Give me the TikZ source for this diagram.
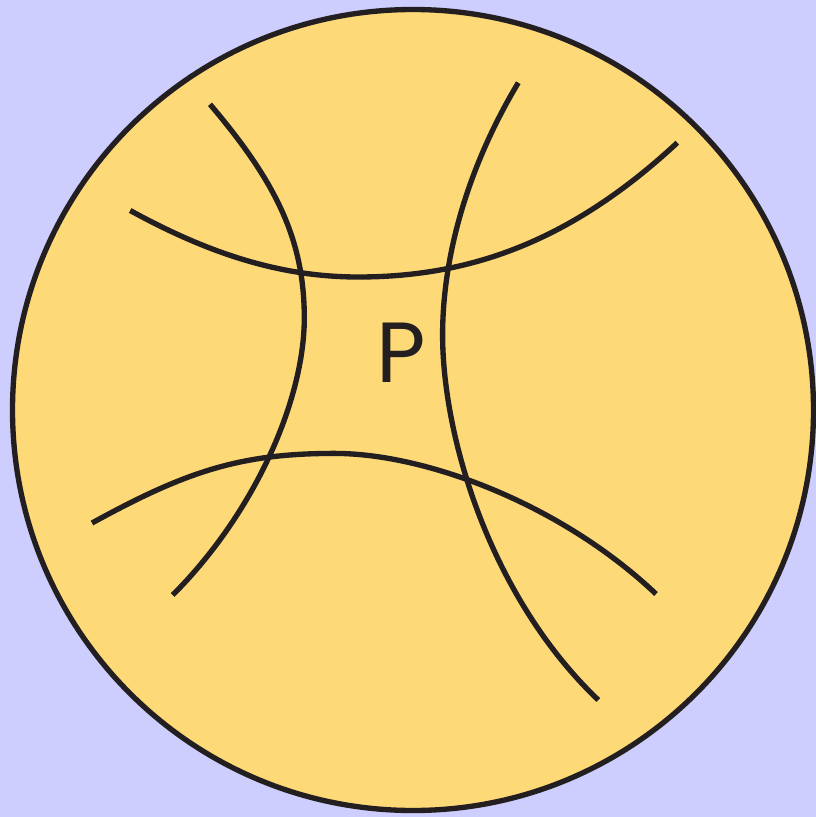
\documentclass[tikz,border=0pt]{standalone}
\usepackage{fontspec}
\setmainfont{Poppins}
\definecolor{bg}{HTML}{CDCDFE}
\definecolor{ball}{HTML}{FDD978}
\definecolor{ink}{HTML}{231F20}
\begin{document}
\begin{tikzpicture}[x=0.75pt,y=-0.75pt,
  seam/.style={draw=ink, line width=4pt},
  ballstyle/.style={circle, draw=ink, fill=ball, line width=4pt, minimum size=600.75pt, inner sep=0pt},
  label/.style={inner sep=0pt, text=ink, font=\fontsize{64pt}{64pt}\selectfont}]
\fill[bg] (0,0) rectangle (816,817);
\useasboundingbox (0,0) rectangle (816,817);
\node[ballstyle] (ball) at (413,410) {};
% top seam
\draw[seam] (130.2,210.5) .. controls (208,253.3) and (280.2,277) .. (358,277)
  .. controls (466.8,277) and (568.5,243.9) .. (677.3,142.7);
% bottom seam
\draw[seam] (92,523) .. controls (186,471.3) and (240.4,453.4) .. (334.4,453.4)
  .. controls (427.6,453.4) and (562.8,505.5) .. (656,594);
% left seam
\draw[seam] (210,104.3) .. controls (276.3,182.3) and (304.3,240) .. (304.3,318)
  .. controls (304.3,400) and (254.7,513) .. (172.7,595);
% right seam
\draw[seam] (518.3,82.7) .. controls (469.3,164.3) and (442.6,253.4) .. (442.6,335)
  .. controls (442.6,437.5) and (490.7,597.5) .. (598.3,700);
\node[label] (p) at (400.8,352.7) {P};
\end{tikzpicture}
\end{document}
